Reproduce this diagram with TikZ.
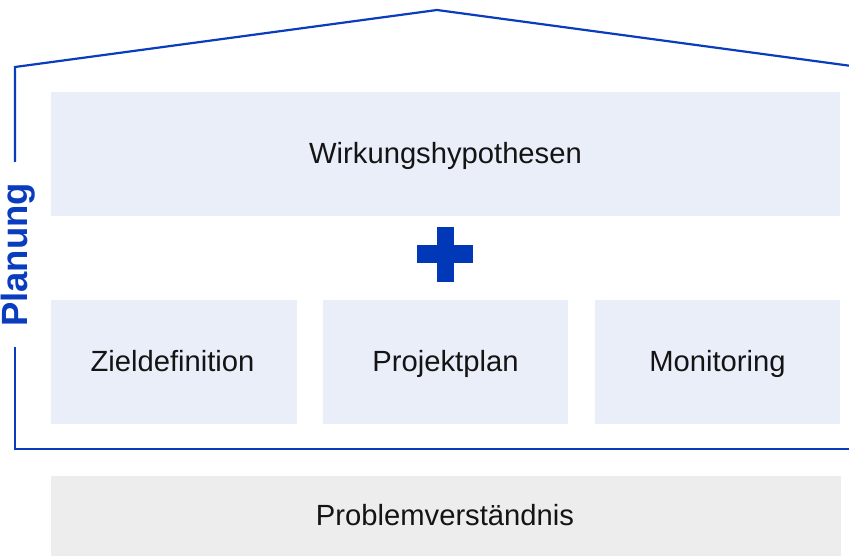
\documentclass[tikz,border=0pt]{standalone}
\usepackage{fontspec}
\setmainfont{Liberation Sans}
\definecolor{houseblue}{RGB}{10,60,190}
\definecolor{plusblue}{RGB}{0,56,184}
\definecolor{boxfill}{RGB}{233,238,249}
\definecolor{greyfill}{RGB}{237,237,237}
\definecolor{txt}{RGB}{20,20,20}
\begin{document}
\begin{tikzpicture}[x=1pt,y=-1pt,
  lightbox/.style={fill=boxfill,draw=none},
  greybox/.style={fill=greyfill,draw=none},
  label/.style={font=\fontsize{29.2}{31}\selectfont,text=txt,inner sep=0pt,anchor=base},
  houseline/.style={draw=houseblue,line width=2.2pt}]
\useasboundingbox (0,0) rectangle (849,556);
\clip (0,0) rectangle (849,556);
% boxes
\fill[lightbox] (51,92) rectangle (840,216);
\node[label] (wirk) at (445.5,164) {Wirkungshypothesen};
\fill[lightbox] (51,300) rectangle (297,424);
\node[label] (ziel) at (172.5,371) {Zieldefinition};
\fill[lightbox] (323,300) rectangle (568,424);
\node[label] (proj) at (445.5,371) {Projektplan};
\fill[lightbox] (595,300) rectangle (840,424);
\node[label] (moni) at (717.5,371) {Monitoring};
\fill[greybox] (51,476) rectangle (841,560);
\node[label] (prob) at (445,525) {Problemverständnis};
% plus
\fill[plusblue] (437,227) rectangle (454,282);
\fill[plusblue] (417,245) rectangle (473,263);
% house outline
\draw[houseline,line join=miter] (15,162) -- (15,67) -- (437,10) -- (859,67);
\draw[houseline,line join=miter] (15,347) -- (15,449) -- (855,449);
\node[font=\fontsize{36.5}{38}\selectfont\bfseries,text=houseblue,rotate=90,inner sep=0pt] (plan) at (18.5,255) {Planung};
\end{tikzpicture}
\end{document}
